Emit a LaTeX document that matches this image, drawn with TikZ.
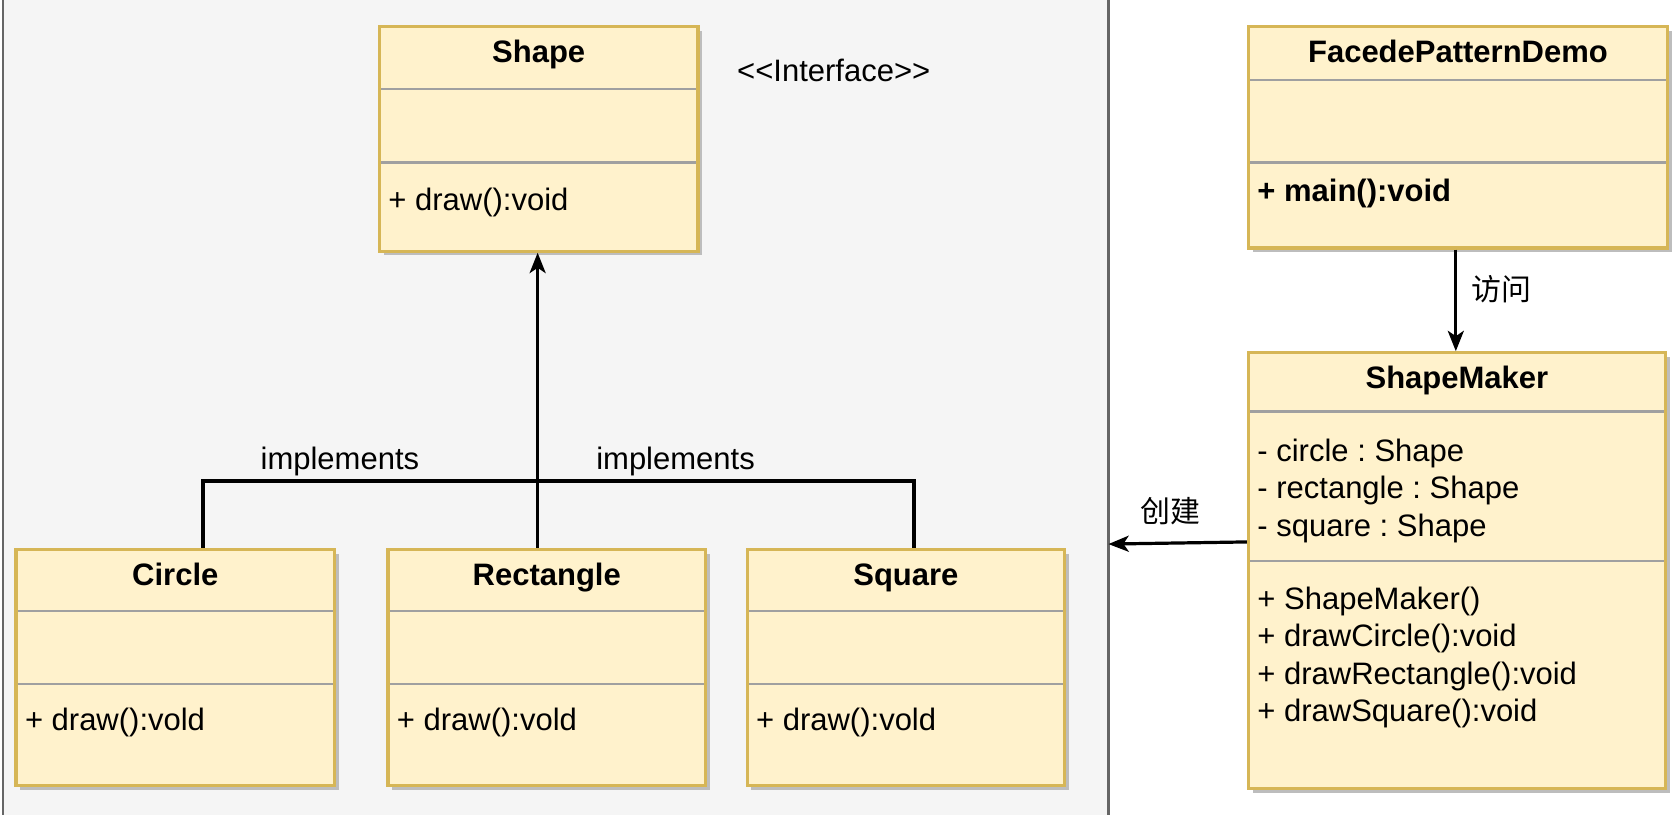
\documentclass[tikz,border=0pt]{standalone}
\usepackage{fontspec}
\setmainfont{Liberation Sans}
\newfontfamily\cjk{Noto Sans CJK SC}
\usetikzlibrary{arrows.meta,calc}
\frenchspacing
\definecolor{boxfill}{HTML}{FFF2CC}
\definecolor{boxline}{HTML}{D6B656}
\definecolor{panelfill}{HTML}{F5F5F5}
\definecolor{panelline}{HTML}{666666}
\definecolor{sepc}{HTML}{A0A0A0}
\definecolor{shadowc}{HTML}{BDBDBD}
\newcommand\umlclass[8]{%
  \fill[shadowc] (#2+4,#3+4) rectangle (#4+4,#5+4);
  \node[classbox, minimum width={(#4-#2)*0.5pt}, minimum height={(#5-#3)*0.5pt}] (#1) at ({(#2+#4)/2},{(#3+#5)/2}) {};
  \draw[sepline] (#2+1.5,#6) -- (#4-1.5,#6);
  \draw[sepline] (#2+1.5,#7) -- (#4-1.5,#7);
  \node[titletext] (#1-title) at ({(#2+#4)/2},#3+26) {#8};
}
\begin{document}
\begin{tikzpicture}[x=0.5pt,y=-0.5pt,
  classbox/.style={draw=boxline, fill=boxfill, line width=1.5pt, inner sep=0pt},
  sepline/.style={draw=sepc, line width=1pt},
  titletext/.style={font=\bfseries\fontsize{14.5}{17.5}\selectfont, inner sep=0pt, text height=10.5pt, text depth=3pt},
  bodytext/.style={font=\fontsize{14.5}{17.5}\selectfont, inner sep=0pt, anchor=west, align=left},
  lbl/.style={font=\fontsize{14.5}{17.5}\selectfont, inner sep=0pt},
  cjklbl/.style={font=\cjk\fontsize{14}{17}\selectfont, inner sep=0pt},
  conn/.style={line width=1.5pt, draw=black},
  arr/.style={conn, -{Stealth[length=9.5pt,width=7.5pt,inset=2.5pt]}},
]
\useasboundingbox (0,0) rectangle (1568,762);
\fill[white] (0,0) rectangle (1568,762);
\draw[fill=panelfill, draw=panelline, line width=1pt] (3,-10) rectangle (1037,772);

% classes
\umlclass{shape}{355}{25}{653}{235}{83}{152}{Shape}
\node[bodytext] (shape-m) at (363,189) {+ draw():void};

\umlclass{circle}{15}{514}{313}{735}{572}{640}{Circle}
\node[bodytext] (circle-m) at (23,676) {+ draw():vold};

\umlclass{rect}{363}{514}{660}{735}{572}{640}{Rectangle}
\node[bodytext] (rect-m) at (371,676) {+ draw():vold};

\umlclass{square}{699}{514}{996}{735}{572}{640}{Square}
\node[bodytext] (square-m) at (707,676) {+ draw():vold};

\umlclass{facade}{1168}{25}{1560}{232}{75}{152}{FacedePatternDemo}
\node[bodytext, font=\bfseries\fontsize{14.5}{17.5}\selectfont] (facade-m) at (1176,181) {+ main():void};

\umlclass{maker}{1168}{330}{1558}{738}{385}{525}{ShapeMaker}
\node[bodytext] (maker-a) at (1176,459) {- circle : Shape\\- rectangle : Shape\\- square : Shape};
\node[bodytext] (maker-m) at (1176,615) {+ ShapeMaker()\\+ drawCircle():void\\+ drawRectangle():void\\+ drawSquare():void};

\node[lbl] (iface) at (780,66) {{<}{<}Interface{>}{>}};

% connectors
\draw[arr] ([xshift=-4.25pt]rect.north) -- ([xshift=-4.25pt]rect.north |- shape.south);
\draw[conn] ([xshift=13pt]circle.north) |- (503,450) -| ([xshift=3.75pt]square.north);
\node[lbl] (impl1) at (318,432) {implements};
\node[lbl] (impl2) at (632,432) {implements};

\draw[arr] ([xshift=-1pt]facade.south) -- ([xshift=-1pt]facade.south |- maker.north);
\node[cjklbl] (visit) at (1405,271) {访问};

\coordinate (panelR) at (1037,509);
\draw[arr] ([yshift=13.5pt]maker.west) -- (panelR);
\node[cjklbl] (create) at (1095,478) {创建};
\end{tikzpicture}
\end{document}
